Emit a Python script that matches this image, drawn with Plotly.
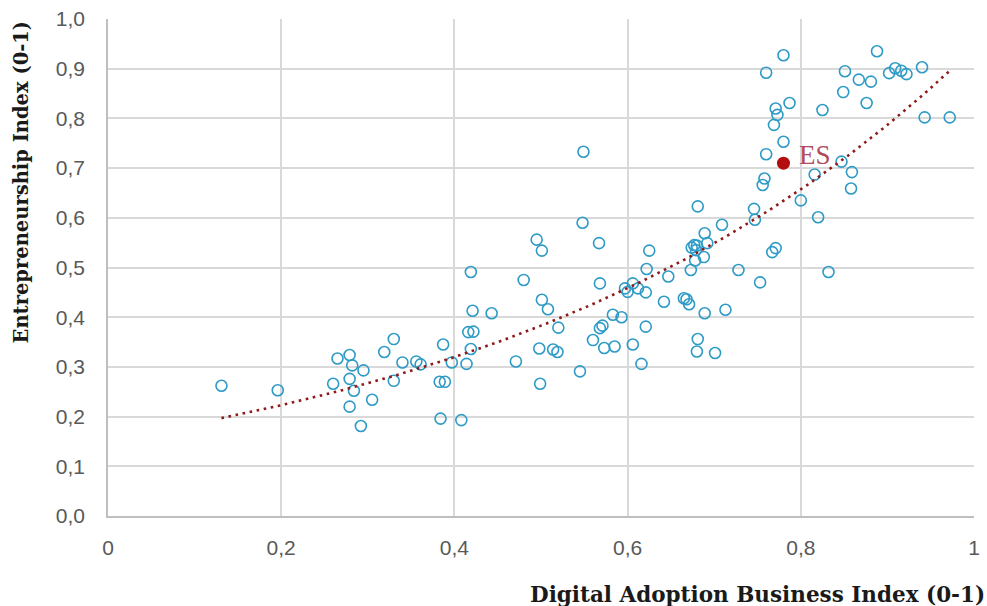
import numpy as np
import plotly.graph_objects as go

# Digital Adoption Business Index (x) and Entrepreneurship Index (y) per country
dabi = [
    0.131, 0.196, 0.260, 0.265, 0.279, 0.282, 0.295, 0.279, 0.284, 0.305,
    0.279, 0.292, 0.319, 0.330, 0.340, 0.356, 0.361, 0.330, 0.387, 0.383,
    0.389, 0.384, 0.397, 0.408, 0.548, 0.495, 0.501, 0.567, 0.419, 0.480,
    0.568, 0.501, 0.508, 0.421, 0.443, 0.597, 0.600, 0.606, 0.583, 0.593,
    0.520, 0.571, 0.568, 0.416, 0.422, 0.419, 0.560, 0.498, 0.514, 0.519,
    0.573, 0.585, 0.606, 0.414, 0.471, 0.545, 0.499, 0.616, 0.549, 0.758,
    0.756, 0.681, 0.746, 0.747, 0.709, 0.689, 0.692, 0.625, 0.677, 0.680,
    0.674, 0.679, 0.688, 0.678, 0.771, 0.767, 0.622, 0.673, 0.647, 0.728,
    0.753, 0.612, 0.621, 0.642, 0.665, 0.668, 0.671, 0.689, 0.713, 0.621,
    0.681, 0.680, 0.701, 0.780, 0.888, 0.760, 0.851, 0.867, 0.881, 0.902,
    0.909, 0.916, 0.922, 0.940, 0.849, 0.876, 0.787, 0.771, 0.773, 0.825,
    0.769, 0.943, 0.972, 0.780, 0.760, 0.847, 0.816, 0.859, 0.858, 0.800,
    0.820, 0.832,
]
entre = [
    0.262, 0.253, 0.266, 0.317, 0.324, 0.303, 0.293, 0.276, 0.252, 0.234,
    0.220, 0.181, 0.330, 0.356, 0.309, 0.311, 0.305, 0.272, 0.345, 0.270,
    0.270, 0.196, 0.309, 0.193, 0.590, 0.556, 0.534, 0.549, 0.491, 0.475,
    0.468, 0.435, 0.416, 0.413, 0.408, 0.458, 0.451, 0.468, 0.405, 0.400,
    0.379, 0.383, 0.378, 0.370, 0.371, 0.336, 0.354, 0.337, 0.335, 0.330,
    0.338, 0.341, 0.345, 0.306, 0.311, 0.291, 0.266, 0.306, 0.733, 0.679,
    0.666, 0.623, 0.618, 0.596, 0.586, 0.569, 0.549, 0.534, 0.545, 0.544,
    0.540, 0.535, 0.521, 0.514, 0.539, 0.531, 0.497, 0.495, 0.482, 0.495,
    0.470, 0.458, 0.450, 0.431, 0.438, 0.436, 0.426, 0.408, 0.415, 0.381,
    0.356, 0.331, 0.328, 0.927, 0.935, 0.892, 0.895, 0.878, 0.874, 0.891,
    0.901, 0.896, 0.889, 0.903, 0.853, 0.831, 0.831, 0.820, 0.807, 0.817,
    0.787, 0.802, 0.802, 0.753, 0.728, 0.713, 0.687, 0.692, 0.659, 0.635,
    0.601, 0.491,
]

# Highlighted country
es_label = "ES"
es_x = [0.780]
es_y = [0.710]

x_ticks = [0, 0.2, 0.4, 0.6, 0.8, 1.0]
x_ticktext = ["0", "0,2", "0,4", "0,6", "0,8", "1"]
y_ticks = [0, 0.1, 0.2, 0.3, 0.4, 0.5, 0.6, 0.7, 0.8, 0.9, 1.0]
y_ticktext = ["0,0", "0,1", "0,2", "0,3", "0,4", "0,5", "0,6", "0,7", "0,8", "0,9", "1,0"]

# Exponential trend line y = a * exp(b * x), least squares on log(y)
xa = np.array(dabi + es_x)
ya = np.array(entre + es_y)
b, ln_a = np.polyfit(xa, np.log(ya), 1)
trend_x = np.linspace(xa.min(), xa.max(), 200)
trend_y = np.exp(ln_a) * np.exp(b * trend_x)

fig = go.Figure()

fig.add_trace(go.Scatter(
    x=dabi, y=entre, mode="markers",
    marker=dict(symbol="circle-open", size=11, color="#2E9BC6",
                line=dict(width=1.6, color="#2E9BC6")),
    hoverinfo="x+y", showlegend=False,
))

fig.add_trace(go.Scatter(
    x=trend_x, y=trend_y, mode="lines",
    line=dict(color="#8E1B1B", width=2.6, dash="2.6px,4.6px"),
    hoverinfo="skip", showlegend=False,
))

fig.add_trace(go.Scatter(
    x=es_x, y=es_y, mode="markers",
    marker=dict(symbol="circle", size=13, color="#B30D0D"),
    hoverinfo="x+y", showlegend=False,
))

fig.add_annotation(
    x=es_x[0], y=es_y[0], xref="x", yref="y",
    text=es_label, showarrow=False, xanchor="left", yanchor="middle",
    xshift=14, yshift=8,
    font=dict(family="Liberation Serif, DejaVu Serif, serif", size=27, color="#B04A5C"),
)

title_family = "DejaVu Serif, Liberation Serif, serif"

fig.add_annotation(
    x=1.0155, y=-0.157, xref="paper", yref="paper",
    text="<b>Digital Adoption Business Index (0-1)</b>", showarrow=False,
    xanchor="right", yanchor="middle",
    font=dict(family=title_family, size=21.5, color="#1a1a1a"),
)
fig.add_annotation(
    x=-0.1, y=0.672, xref="paper", yref="paper",
    text="<b>Entrepreneurship Index (0-1)</b>", showarrow=False, textangle=-90,
    xanchor="center", yanchor="middle",
    font=dict(family=title_family, size=19.5, color="#1a1a1a"),
)

tick_font = dict(family="Liberation Sans, Arial, sans-serif", size=21, color="#595959")

fig.update_xaxes(
    range=[0, 1], tickvals=x_ticks, ticktext=x_ticktext, tickfont=tick_font,
    showgrid=True, gridcolor="#D9D9D9", gridwidth=1.5,
    showline=True, linecolor="#BFBFBF", linewidth=1.5,
    zeroline=False, ticks="", ticklabelstandoff=12,
)
fig.update_yaxes(
    range=[0, 1], tickvals=y_ticks, ticktext=y_ticktext, tickfont=tick_font,
    showgrid=True, gridcolor="#D9D9D9", gridwidth=1.5,
    showline=True, linecolor="#BFBFBF", linewidth=1.5,
    zeroline=False, ticks="", ticklabelstandoff=17,
)

fig.update_layout(
    width=987, height=606,
    margin=dict(l=108, r=7, t=19, b=90),
    paper_bgcolor="white", plot_bgcolor="white",
    showlegend=False,
)

fig.write_html("out.html")
